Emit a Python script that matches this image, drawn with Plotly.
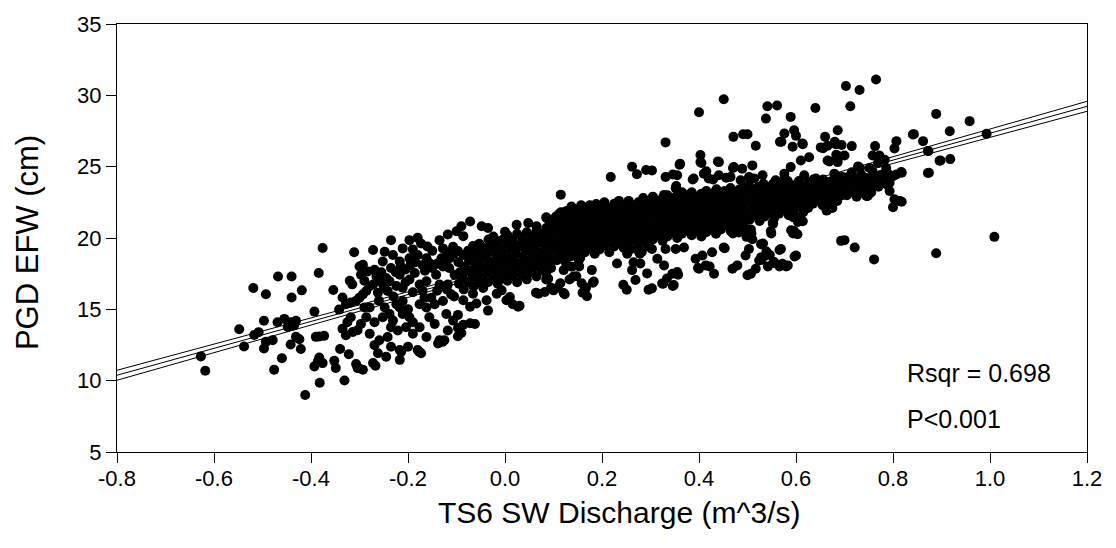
import numpy as np
import plotly.graph_objects as go

# ---------------- data ----------------
# (TS6 SW discharge [m^3/s], PGD EFW [cm]) pairs, grouped by region
left_pts = [
    (-0.627, 11.7), (-0.618, 10.7), (-0.548, 13.6), (-0.538, 12.4), (-0.519, 16.5), (-0.517, 13.2), (-0.508, 13.4),
    (-0.376, 19.3), (-0.311, 19.0), (-0.468, 17.3), (-0.44, 17.3), (-0.384, 17.55), (-0.30, 18.0), (-0.32, 17.0), (-0.315, 16.75),
    (-0.493, 16.06), (-0.44, 15.83), (-0.419, 16.33), (-0.354, 16.36), (-0.335, 15.83), (-0.393, 14.84), (-0.342, 14.98), (-0.328, 15.37),
    (-0.318, 15.48), (-0.307, 15.6), (-0.497, 14.2), (-0.469, 14.1), (-0.455, 14.33), (-0.442, 14.1), (-0.431, 14.2), (-0.435, 13.87),
    (-0.448, 13.76), (-0.318, 14.45), (-0.325, 14.1), (-0.335, 13.64), (-0.328, 13.18), (-0.314, 13.41), (-0.304, 13.53), (-0.39, 13.07),
    (-0.373, 13.14), (-0.383, 13.1), (-0.431, 13.07), (-0.424, 12.9), (-0.493, 12.72), (-0.497, 12.26), (-0.479, 12.84), (-0.442, 12.54),
    (-0.421, 12.22), (-0.34, 12.22), (-0.322, 11.85), (-0.46, 11.57), (-0.383, 11.62), (-0.386, 11.34), (-0.393, 11.0), (-0.376, 11.23),
    (-0.352, 11.39), (-0.349, 10.89), (-0.307, 11.16), (-0.304, 10.89), (-0.476, 10.77), (-0.382, 9.85), (-0.331, 10.01), (-0.412, 9.0),
]

mid_left_pts = [
    (-0.235, 19.85), (-0.197, 19.85), (-0.18, 20.01), (-0.173, 19.62), (-0.118, 20.24), (-0.135, 19.85), (-0.107, 19.39), (-0.128, 19.27),
    (-0.272, 19.16), (-0.211, 19.27), (-0.248, 19.04), (-0.231, 18.81), (-0.252, 18.35), (-0.217, 18.35), (-0.197, 18.58), (-0.18, 18.81),
    (-0.162, 18.58), (-0.156, 18.24), (-0.293, 18.12), (-0.269, 17.78), (-0.283, 17.66), (-0.297, 17.43), (-0.186, 17.55), (-0.142, 17.43),
    (-0.128, 18.01), (-0.114, 18.58), (-0.104, 17.43), (-0.131, 18.58), (-0.259, 16.97), (-0.272, 16.74), (-0.238, 16.97), (-0.217, 17.43),
    (-0.224, 16.63), (-0.197, 17.09), (-0.176, 16.74), (-0.162, 16.97), (-0.135, 16.74), (-0.118, 16.74), (-0.211, 16.51), (-0.242, 16.28),
    (-0.262, 16.17), (-0.286, 16.28), (-0.3, 15.82), (-0.293, 16.05), (-0.111, 16.05), (-0.128, 15.59), (-0.166, 15.82), (-0.152, 15.82),
    (-0.145, 15.36), (-0.176, 15.36), (-0.211, 15.59), (-0.224, 15.36), (-0.248, 15.13), (-0.279, 15.13), (-0.29, 15.13), (-0.217, 15.13),
    (-0.162, 15.13), (-0.238, 14.67), (-0.252, 14.44), (-0.231, 14.21), (-0.211, 14.67), (-0.197, 14.44), (-0.286, 14.44), (-0.297, 13.98),
    (-0.204, 13.75), (-0.176, 13.75), (-0.156, 14.44), (-0.145, 13.98), (-0.121, 14.67), (-0.107, 14.21), (-0.19, 14.1), (-0.269, 14.1),
    (-0.221, 13.52), (-0.235, 13.75), (-0.242, 13.06), (-0.259, 12.83), (-0.19, 13.29), (-0.118, 13.52), (-0.135, 12.83), (-0.138, 12.6),
    (-0.125, 12.83), (-0.269, 12.49), (-0.235, 12.38), (-0.2, 12.38), (-0.217, 12.15), (-0.18, 12.15), (-0.173, 11.92), (-0.279, 13.29),
    (-0.162, 13.06), (-0.262, 11.92), (-0.272, 11.23), (-0.293, 10.77), (-0.217, 11.46), (-0.245, 11.68), (-0.267, 11.05), (-0.214, 12.03),
    (-0.177, 12.03), (-0.129, 12.72), (-0.302, 10.88),
    (-0.29, 17.0), (-0.28, 16.6), (-0.265, 17.3), (-0.255, 17.6), (-0.245, 17.2), (-0.235, 17.9), (-0.225, 17.6), (-0.215, 18.0),
    (-0.205, 17.8), (-0.195, 18.1), (-0.185, 18.3), (-0.17, 18.1), (-0.165, 17.7), (-0.15, 17.9), (-0.14, 18.2), (-0.125, 18.3),
    (-0.115, 17.9), (-0.105, 18.9), (-0.12, 19.0), (-0.15, 19.1), (-0.16, 19.4), (-0.19, 19.2), (-0.205, 16.9), (-0.25, 16.6),
    (-0.26, 15.6), (-0.23, 15.9), (-0.19, 16.2), (-0.17, 16.3), (-0.14, 16.3), (-0.12, 16.4), (-0.105, 15.9), (-0.2, 15.0),
]

center_pts = [
    (-0.072, 21.16), (-0.09, 20.82), (-0.1, 20.47), (-0.048, 20.82), (-0.035, 20.7), (0.0, 20.43), (0.024, 20.93), (0.048, 21.05),
    (0.065, 20.82), (0.086, 21.39), (0.093, 21.05), (-0.066, 19.44), (-0.028, 19.55), (-0.014, 19.78), (-0.086, 20.13), (-0.097, 19.09),
    (-0.066, 18.52),
    (-0.086, 15.64), (-0.066, 16.1), (-0.072, 15.18), (-0.059, 15.41), (-0.038, 15.64), (-0.017, 16.1), (0.003, 15.64), (0.027, 15.18),
    (-0.035, 14.91), (-0.007, 16.33), (0.01, 15.87), (0.069, 16.1), (0.082, 16.22), (0.089, 17.14), (0.1, 16.33), (-0.097, 14.61),
    (-0.086, 13.92), (-0.072, 14.03), (-0.062, 13.97), (-0.097, 13.69), (-0.09, 13.34), (-0.097, 13.11),
    (0.016, 15.36), (0.03, 15.25), (0.064, 16.17), (0.085, 17.09), (0.095, 16.52),
    (-0.095, 16.8), (-0.093, 17.6), (-0.096, 18.3),
    (-0.085, 16.4), (-0.087, 17.2), (-0.084, 18.0), (-0.086, 18.8),
    (-0.075, 16.9), (-0.077, 17.7), (-0.074, 18.4), (-0.076, 19.1),
    (-0.065, 16.6), (-0.066, 17.3), (-0.063, 17.9), (-0.067, 18.9),
    (-0.055, 16.9), (-0.057, 17.6), (-0.054, 18.2), (-0.056, 19.0), (-0.053, 19.6),
    (-0.045, 16.5), (-0.046, 17.2), (-0.043, 17.9), (-0.047, 18.6), (-0.044, 19.3),
    (-0.035, 16.9), (-0.036, 17.6), (-0.033, 18.3), (-0.037, 18.9), (-0.034, 19.9),
    (-0.025, 17.1), (-0.026, 17.8), (-0.023, 18.4), (-0.027, 19.1), (-0.024, 20.1),
    (-0.015, 16.8), (-0.016, 17.5), (-0.013, 18.2), (-0.017, 18.8), (-0.014, 19.4),
    (-0.005, 17.2), (-0.006, 17.9), (-0.003, 18.5), (-0.007, 19.2), (-0.004, 19.9),
    (0.005, 17.0), (0.004, 17.6), (0.007, 18.3), (0.003, 18.9), (0.006, 19.6), (0.005, 20.2),
    (0.015, 17.3), (0.014, 18.0), (0.017, 18.6), (0.013, 19.3), (0.016, 19.9),
    (0.025, 16.9), (0.024, 17.6), (0.027, 18.2), (0.023, 18.9), (0.026, 19.5), (0.025, 20.3),
    (0.035, 17.4), (0.034, 18.1), (0.037, 18.7), (0.033, 19.4), (0.036, 20.0),
    (0.045, 17.1), (0.044, 17.8), (0.047, 18.4), (0.043, 19.1), (0.046, 19.7), (0.045, 20.4),
    (0.055, 17.6), (0.054, 18.2), (0.057, 18.9), (0.053, 19.5), (0.056, 20.1),
    (0.065, 17.3), (0.064, 18.0), (0.067, 18.6), (0.063, 19.3), (0.066, 19.9), (0.065, 20.5),
    (0.075, 17.8), (0.074, 18.4), (0.077, 19.0), (0.073, 19.7), (0.076, 20.3),
    (0.085, 17.5), (0.084, 18.2), (0.087, 18.8), (0.083, 19.5), (0.086, 20.1), (0.085, 20.7),
    (0.095, 17.9), (0.094, 18.5), (0.097, 19.2), (0.093, 19.8), (0.096, 20.4),
]

mid_right_pts = [
    (0.262, 25.0), (0.272, 24.47), (0.291, 24.77), (0.218, 24.28), (0.115, 23.04),
    (0.107, 18.44), (0.121, 17.75), (0.114, 16.83), (0.121, 16.14), (0.138, 17.98), (0.141, 17.29), (0.152, 18.44), (0.158, 16.83),
    (0.165, 16.37), (0.169, 15.92), (0.183, 16.95), (0.179, 17.75), (0.231, 18.21), (0.244, 16.72), (0.251, 16.37), (0.269, 17.06),
    (0.262, 17.75), (0.279, 18.21), (0.293, 17.52), (0.296, 16.37), (0.282, 19.02), (0.251, 19.13),
    (0.109, 16.52), (0.123, 16.06), (0.16, 16.17), (0.167, 16.52), (0.181, 16.86), (0.133, 17.09), (0.147, 17.32), (0.153, 18.01),
    (0.085, 21.46), (0.112, 21.69), (0.15, 21.81), (0.174, 22.26), (0.188, 22.38),
    (0.252, 18.9), (0.278, 18.9), (0.265, 18.3), (0.258, 19.2), (0.272, 19.2),
    (0.105, 18.5), (0.107, 19.1), (0.104, 19.7), (0.106, 20.3), (0.103, 20.9), (0.105, 21.5),
    (0.115, 18.8), (0.117, 19.4), (0.114, 20.0), (0.116, 20.6), (0.113, 21.2), (0.115, 21.8),
    (0.125, 18.3), (0.127, 18.9), (0.124, 19.5), (0.126, 20.1), (0.123, 20.7), (0.125, 21.3), (0.127, 21.9),
    (0.135, 18.7), (0.137, 19.3), (0.134, 19.9), (0.136, 20.5), (0.133, 21.1), (0.135, 21.7), (0.137, 22.2),
    (0.145, 19.0), (0.147, 19.6), (0.144, 20.2), (0.146, 20.8), (0.143, 21.4), (0.145, 22.0),
    (0.155, 18.6), (0.157, 19.2), (0.154, 19.8), (0.156, 20.4), (0.153, 21.0), (0.155, 21.6), (0.157, 22.3),
    (0.165, 19.0), (0.167, 19.6), (0.164, 20.2), (0.166, 20.8), (0.163, 21.4), (0.165, 22.0),
    (0.175, 19.3), (0.177, 19.9), (0.174, 20.5), (0.176, 21.1), (0.173, 21.7), (0.175, 22.3),
    (0.185, 18.9), (0.187, 19.5), (0.184, 20.1), (0.186, 20.7), (0.183, 21.3), (0.185, 21.9),
    (0.195, 19.2), (0.197, 19.8), (0.194, 20.4), (0.196, 21.0), (0.193, 21.6), (0.195, 22.2),
    (0.205, 19.5), (0.207, 20.1), (0.204, 20.7), (0.206, 21.3), (0.203, 21.9), (0.205, 22.5),
    (0.215, 19.0), (0.217, 19.7), (0.214, 20.3), (0.216, 20.9), (0.213, 21.5), (0.215, 22.1),
    (0.225, 19.4), (0.227, 20.0), (0.224, 20.6), (0.226, 21.2), (0.223, 21.8), (0.225, 22.4),
    (0.235, 19.7), (0.237, 20.3), (0.234, 20.9), (0.236, 21.5), (0.233, 22.1), (0.235, 22.6),
    (0.245, 19.3), (0.247, 19.9), (0.244, 20.5), (0.246, 21.1), (0.243, 21.7), (0.245, 22.3),
    (0.255, 19.6), (0.257, 20.2), (0.254, 20.8), (0.256, 21.4), (0.253, 22.0), (0.255, 22.6),
    (0.265, 19.9), (0.267, 20.5), (0.264, 21.1), (0.266, 21.7), (0.263, 22.3),
    (0.275, 19.5), (0.277, 20.1), (0.274, 20.7), (0.276, 21.3), (0.273, 21.9), (0.275, 22.5),
    (0.285, 19.8), (0.287, 20.4), (0.284, 21.0), (0.286, 21.6), (0.283, 22.2), (0.285, 22.8),
    (0.295, 19.4), (0.297, 20.0), (0.294, 20.6), (0.296, 21.2), (0.293, 21.8), (0.295, 22.4),
]

upper_mid_pts = [
    (0.451, 29.73), (0.4, 28.81), (0.471, 27.09), (0.491, 27.27), (0.331, 26.7), (0.403, 25.82),
    (0.361, 25.2), (0.403, 25.32), (0.441, 25.32), (0.472, 24.97), (0.489, 24.86),
    (0.331, 24.28), (0.355, 24.4), (0.389, 24.17), (0.41, 24.51), (0.42, 24.17), (0.441, 24.4), (0.465, 24.28), (0.486, 24.05),
    (0.352, 23.48), (0.328, 23.02), (0.369, 22.9), (0.341, 22.56), (0.303, 24.74),
    (0.346, 24.45), (0.353, 23.64), (0.36, 25.14), (0.387, 24.1), (0.405, 25.26), (0.415, 24.68), (0.429, 24.1), (0.436, 23.41),
    (0.439, 25.37), (0.456, 24.22), (0.47, 24.91),
    (0.469, 20.49), (0.482, 20.38), (0.451, 19.34), (0.331, 19.23), (0.352, 19.23), (0.369, 19.34), (0.303, 19.23), (0.314, 18.54),
    (0.328, 18.08), (0.345, 17.5), (0.355, 17.62), (0.334, 17.16), (0.324, 16.81), (0.348, 16.7), (0.303, 16.47), (0.393, 18.54),
    (0.407, 18.77), (0.414, 18.08), (0.427, 19.0), (0.431, 17.5), (0.4, 17.85), (0.469, 17.85), (0.479, 18.08), (0.496, 18.77), (0.5, 17.39),
    (0.398, 17.9), (0.422, 18.0), (0.453, 19.28), (0.47, 20.31), (0.498, 20.08), (0.357, 17.43), (0.326, 16.79), (0.346, 16.63),
    (0.305, 19.9), (0.307, 20.5), (0.304, 21.1), (0.306, 21.7), (0.303, 22.3), (0.305, 22.9),
    (0.315, 20.2), (0.317, 20.8), (0.314, 21.4), (0.316, 22.0), (0.313, 22.6),
    (0.325, 19.8), (0.327, 20.4), (0.324, 21.0), (0.326, 21.6), (0.323, 22.2), (0.325, 22.8),
    (0.335, 20.1), (0.337, 20.7), (0.334, 21.3), (0.336, 21.9), (0.333, 22.5), (0.335, 23.0),
    (0.345, 20.4), (0.347, 21.0), (0.344, 21.6), (0.346, 22.2), (0.343, 22.8),
    (0.355, 20.0), (0.357, 20.6), (0.354, 21.2), (0.356, 21.8), (0.353, 22.4), (0.355, 23.0),
    (0.365, 20.3), (0.367, 20.9), (0.364, 21.5), (0.366, 22.1), (0.363, 22.7), (0.365, 23.2),
    (0.375, 20.6), (0.377, 21.2), (0.374, 21.8), (0.376, 22.4), (0.373, 23.0),
    (0.385, 20.2), (0.387, 20.8), (0.384, 21.4), (0.386, 22.0), (0.383, 22.6), (0.385, 23.2),
    (0.395, 20.5), (0.397, 21.1), (0.394, 21.7), (0.396, 22.3), (0.393, 22.9),
    (0.405, 20.1), (0.407, 20.7), (0.404, 21.3), (0.406, 21.9), (0.403, 22.5), (0.405, 23.1),
    (0.415, 20.4), (0.417, 21.0), (0.414, 21.6), (0.416, 22.2), (0.413, 22.8), (0.415, 23.3),
    (0.425, 20.7), (0.427, 21.3), (0.424, 21.9), (0.426, 22.5), (0.423, 23.1),
    (0.435, 20.3), (0.437, 20.9), (0.434, 21.5), (0.436, 22.1), (0.433, 22.7), (0.435, 23.3),
    (0.445, 20.6), (0.447, 21.2), (0.444, 21.8), (0.446, 22.4), (0.443, 23.0),
    (0.455, 20.9), (0.457, 21.5), (0.454, 22.1), (0.456, 22.7), (0.453, 23.3),
    (0.465, 20.5), (0.467, 21.1), (0.464, 21.7), (0.466, 22.3), (0.463, 22.9), (0.465, 23.5),
    (0.475, 20.8), (0.477, 21.4), (0.474, 22.0), (0.476, 22.6), (0.473, 23.2),
    (0.485, 21.0), (0.487, 21.6), (0.484, 22.2), (0.486, 22.8), (0.483, 23.4),
    (0.495, 20.7), (0.497, 21.3), (0.494, 21.9), (0.496, 22.5), (0.493, 23.1), (0.495, 23.6),
]

right_pts = [
    (0.541, 29.23), (0.561, 29.29), (0.538, 28.37), (0.64, 29.11), (0.589, 28.49), (0.5, 27.27), (0.576, 27.32), (0.596, 27.55),
    (0.6, 27.16), (0.567, 26.74), (0.517, 26.47), (0.593, 26.4), (0.614, 26.58), (0.66, 27.09), (0.686, 27.55), (0.651, 26.35),
    (0.665, 26.47), (0.682, 26.58), (0.68, 26.75), (0.656, 26.29), (0.694, 26.52), (0.683, 25.83), (0.669, 25.37), (0.69, 25.71),
    (0.627, 25.66), (0.61, 25.43), (0.589, 24.97), (0.576, 24.51), (0.665, 25.43), (0.686, 25.32), (0.51, 25.09), (0.531, 24.4),
    (0.503, 24.28), (0.514, 24.17), (0.558, 24.05), (0.576, 24.17), (0.617, 24.4), (0.641, 24.17), (0.658, 23.94), (0.679, 24.51),
    (0.696, 24.28), (0.57, 26.75), (0.613, 26.63),
    (0.665, 21.98), (0.675, 22.1), (0.603, 21.41), (0.614, 21.18), (0.552, 21.06), (0.548, 20.49), (0.596, 20.49), (0.603, 20.26),
    (0.693, 19.8), (0.663, 21.92), (0.673, 22.26), (0.594, 21.46), (0.604, 21.12), (0.59, 20.54), (0.594, 20.31),
    (0.503, 21.29), (0.507, 20.6), (0.51, 19.91), (0.503, 19.23), (0.528, 19.57), (0.528, 18.65), (0.524, 18.42), (0.517, 17.85),
    (0.507, 17.5), (0.538, 18.77), (0.569, 19.23), (0.6, 18.77), (0.555, 18.31), (0.572, 18.19), (0.583, 18.08),
    (0.529, 18.47), (0.553, 18.24), (0.508, 20.31), (0.532, 19.62), (0.539, 19.05), (0.553, 21.0), (0.549, 20.31),
    (0.566, 19.16), (0.566, 18.01), (0.58, 18.01), (0.597, 18.7), (0.542, 18.01), (0.546, 18.81),
    (0.67, 23.3), (0.652, 23.41), (0.673, 23.76), (0.635, 23.76), (0.69, 23.64), (0.614, 23.07), (0.628, 22.61),
    (0.505, 21.3), (0.507, 21.9), (0.504, 22.5), (0.506, 23.1), (0.503, 23.7),
    (0.515, 21.6), (0.517, 22.2), (0.514, 22.8), (0.516, 23.4),
    (0.525, 21.2), (0.527, 21.8), (0.524, 22.4), (0.526, 23.0), (0.523, 23.6),
    (0.535, 21.5), (0.537, 22.1), (0.534, 22.7), (0.536, 23.3), (0.533, 23.8),
    (0.545, 21.8), (0.547, 22.4), (0.544, 23.0), (0.546, 23.6),
    (0.555, 21.4), (0.557, 22.0), (0.554, 22.6), (0.556, 23.2), (0.553, 23.8),
    (0.565, 21.7), (0.567, 22.3), (0.564, 22.9), (0.566, 23.5),
    (0.575, 22.0), (0.577, 22.6), (0.574, 23.2), (0.576, 23.8),
    (0.585, 21.6), (0.587, 22.2), (0.584, 22.8), (0.586, 23.4), (0.583, 24.0),
    (0.595, 21.9), (0.597, 22.5), (0.594, 23.1), (0.596, 23.7),
    (0.605, 22.2), (0.607, 22.8), (0.604, 23.4), (0.606, 24.0),
    (0.615, 21.8), (0.617, 22.4), (0.614, 23.0), (0.616, 23.6),
    (0.625, 22.1), (0.627, 22.7), (0.624, 23.3), (0.626, 23.9),
    (0.635, 22.4), (0.637, 23.0), (0.634, 23.6), (0.636, 24.1),
    (0.645, 22.6), (0.647, 23.2), (0.644, 23.8),
    (0.655, 22.3), (0.657, 22.9), (0.654, 23.5), (0.656, 24.1),
    (0.665, 22.7), (0.667, 23.3), (0.664, 23.9),
    (0.675, 22.9), (0.677, 23.5), (0.674, 24.0),
    (0.685, 22.6), (0.687, 23.2), (0.684, 23.8), (0.686, 24.3),
    (0.695, 23.0), (0.697, 23.6), (0.694, 24.1),
]

far_right_pts = [
    (0.765, 31.11), (0.703, 30.65), (0.731, 30.37), (0.712, 29.23), (0.889, 28.7), (0.841, 27.25), (0.862, 26.79), (0.715, 26.44),
    (0.763, 26.44), (0.807, 26.79), (0.803, 26.28), (0.7, 25.78), (0.758, 25.78), (0.772, 25.78), (0.783, 25.48), (0.872, 26.1),
    (0.896, 25.41), (0.769, 25.26), (0.752, 24.91),
    (0.728, 25.02), (0.714, 24.44), (0.703, 24.1), (0.707, 23.52), (0.721, 23.87), (0.738, 23.75), (0.752, 24.1), (0.762, 23.75),
    (0.758, 24.67), (0.776, 24.44), (0.786, 24.9), (0.789, 24.21), (0.8, 24.33), (0.817, 24.63), (0.783, 23.87), (0.793, 23.87),
    (0.872, 24.56), (0.748, 22.95), (0.8, 22.15), (0.814, 22.6), (0.803, 22.72), (0.818, 22.54),
    (0.732, 24.91), (0.711, 23.99), (0.728, 23.76), (0.704, 23.41), (0.732, 23.41), (0.752, 23.64), (0.762, 23.99), (0.783, 24.22),
    (0.787, 23.76), (0.807, 24.45), (0.818, 24.57), (0.793, 23.3), (0.745, 22.95), (0.874, 24.57),
    (0.705, 23.0), (0.715, 23.3), (0.725, 22.9), (0.735, 23.2), (0.745, 23.5), (0.755, 23.2), (0.77, 23.6), (0.78, 24.0),
    (0.705, 24.2), (0.725, 24.1), (0.735, 24.4), (0.745, 24.2), (0.755, 23.9), (0.77, 24.3), (0.79, 24.5), (0.715, 24.6),
    (0.721, 19.34), (0.761, 18.5), (0.889, 18.93), (0.7, 19.85),
    (0.958, 28.19), (0.917, 27.48), (0.993, 27.3), (0.898, 25.43), (0.918, 25.53), (1.009, 20.08), (0.843, 27.28), (0.873, 26.1),
]

# regression line and 95% confidence band
fit_intercept = 17.92
fit_slope = 9.425
fit_x_range = [-0.8, 1.2]
ci_center_x = 0.2
ci_half_at_center = 0.12
ci_half_at_ends = 0.35

stats_text = ["Rsqr = 0.698", "P<0.001"]

x_tick_values = [-0.8, -0.6, -0.4, -0.2, 0.0, 0.2, 0.4, 0.6, 0.8, 1.0, 1.2]
x_tick_labels = ["-0.8", "-0.6", "-0.4", "-0.2", "0.0", "0.2", "0.4", "0.6", "0.8", "1.0", "1.2"]
y_tick_values = [5, 10, 15, 20, 25, 30, 35]
y_tick_labels = ["5", "10", "15", "20", "25", "30", "35"]

x_title = "TS6 SW Discharge (m^3/s)"
y_title = "PGD EFW (cm)"

# ---------------- build figure ----------------
all_pts = left_pts + mid_left_pts + center_pts + mid_right_pts + upper_mid_pts + right_pts + far_right_pts
discharge = [p[0] for p in all_pts]
efw = [p[1] for p in all_pts]

FONT = "Liberation Sans, Arial, sans-serif"

xs = np.linspace(fit_x_range[0], fit_x_range[1], 81)
y_fit = fit_intercept + fit_slope * xs
b = (ci_half_at_ends ** 2 - ci_half_at_center ** 2) / 1.0
half = np.sqrt(ci_half_at_center ** 2 + b * (xs - ci_center_x) ** 2)

fig = go.Figure()
for yy in (y_fit + half, y_fit, y_fit - half):
    fig.add_trace(go.Scatter(x=xs, y=yy, mode="lines",
                             line=dict(color="black", width=1),
                             hoverinfo="skip", showlegend=False))

fig.add_trace(go.Scatter(x=discharge, y=efw, mode="markers",
                         marker=dict(color="black", size=10, line=dict(width=0)),
                         showlegend=False))

axis_common = dict(showgrid=False, zeroline=False, showline=True, linecolor="black",
                   linewidth=1.3, mirror=True, ticks="outside", ticklen=10, tickwidth=1.3,
                   tickcolor="black", tickfont=dict(family=FONT, size=22, color="black"))

fig.update_xaxes(range=[-0.8, 1.2], tickmode="array", tickvals=x_tick_values,
                 ticktext=x_tick_labels, ticklabelstandoff=-4, **axis_common)
fig.update_yaxes(range=[5, 35], tickmode="array", tickvals=y_tick_values,
                 ticktext=y_tick_labels, **axis_common)

annotations = [
    dict(text=x_title, xref="paper", yref="paper", x=0.5175, y=-0.142,
         xanchor="center", yanchor="middle", showarrow=False,
         font=dict(family=FONT, size=30, color="black")),
    dict(text=y_title, xref="paper", yref="paper", x=-0.093, y=0.49,
         xanchor="center", yanchor="middle", textangle=-90, showarrow=False,
         font=dict(family=FONT, size=31, color="black")),
    dict(text=stats_text[0], xref="x", yref="y", x=0.825, y=10.55,
         xanchor="left", yanchor="middle", showarrow=False,
         font=dict(family=FONT, size=25, color="black")),
    dict(text=stats_text[1], xref="x", yref="y", x=0.825, y=7.3,
         xanchor="left", yanchor="middle", showarrow=False,
         font=dict(family=FONT, size=25, color="black")),
]

fig.update_layout(width=1116, height=548, margin=dict(l=117, r=29, t=17, b=96),
                  plot_bgcolor="white", paper_bgcolor="white",
                  annotations=annotations, showlegend=False)

fig.write_html("out.html")
